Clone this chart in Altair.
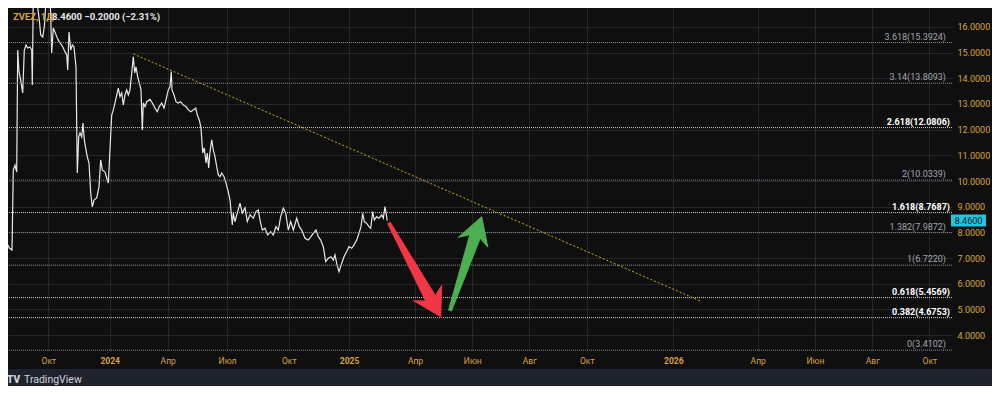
import altair as alt
import pandas as pd

# ---------------- data ----------------
# bar position (session index along the time axis) and close price
bar_pos = [0, 1.3, 4, 5.3, 7, 8.7, 9.7, 11, 13, 14.7, 16.3, 18, 19.7, 22, 23.7, 24.3, 25.3, 27,
           31.3, 32.7, 34.7, 36.3, 38.7, 42, 43.7, 45.3, 47, 49.3, 51.3, 53.7, 55.3, 57, 58.7,
           59.7, 61, 62.7, 64.3, 66, 68, 69.3, 70.7, 72, 73.7, 75, 76.3, 78, 79.3, 81, 82.7,
           84.3, 86, 88.7, 91, 92.7, 94.3, 97, 99.3, 100.3, 103.7, 105.3, 107, 108.7, 110.3,
           112, 113.7, 115.3, 117, 118.7, 120.3, 122, 123.7, 125.3, 126.7, 128, 129.7, 131.3,
           133, 134.3, 135.3, 137, 138.7, 142, 144.3, 147, 149.3, 151.3, 153.7, 156, 158,
           160.3, 162, 163.3, 164, 166, 168, 170.3, 172.7, 175.3, 178, 180.3, 182.7, 185.3,
           187.7, 189.3, 191.3, 193, 194.7, 196.3, 198, 199.3, 200.7, 202, 203.7, 205.3, 207,
           208.7, 210.3, 212, 213.7, 216, 218, 220.3, 222, 224.3, 225.3, 227, 229.3, 232,
           234.3, 237, 239.3, 242, 245.3, 248, 250.3, 252, 254.3, 257, 259.7, 262.7, 265.3,
           268, 270.3, 272.7, 275.3, 277.7, 280.3, 282.7, 285.3, 288.7, 291.3, 293.7, 297,
           300.3, 303, 305.3, 308, 310.3, 312.7, 315.3, 317.7, 320.3, 323, 325.3, 327, 328.7,
           331, 333.7, 336, 338.7, 341, 343.7, 346, 348.7, 351, 353, 354.7, 356.3, 358.7, 361,
           362.7, 364.7, 366.3, 368.7, 371, 373.7, 375.3, 377, 379.3]
close = [7.51, 7.39, 7.31, 10.43, 10.62, 10.35, 15.10, 14.25, 13.86, 13.43, 15.10, 15.30, 15.18,
         15.22, 15.10, 13.74, 17.30, 17.60, 16.27, 15.69, 15.61, 16.00, 17.40, 17.40, 14.99,
         15.96, 15.80, 15.57, 15.42, 15.30, 15.18, 15.03, 14.91, 14.33, 15.80, 15.10, 15.30,
         15.22, 14.44, 10.31, 11.72, 11.87, 11.72, 12.26, 11.60, 11.21, 10.94, 10.70, 9.53,
         8.99, 9.26, 9.34, 9.77, 10.82, 10.43, 10.35, 10.04, 9.92, 12.57, 12.77, 13.04, 13.35,
         13.62, 13.29, 13.43, 12.96, 13.35, 13.55, 13.35, 13.55, 14.21, 14.84, 14.21, 14.45,
         14.06, 13.82, 13.55, 11.99, 13.04, 12.90, 13.09, 13.18, 13.04, 12.84, 12.70, 12.90,
         13.04, 12.84, 13.16, 13.55, 13.67, 14.26, 13.55, 13.35, 13.09, 13.04, 13.09, 12.96,
         12.90, 12.77, 12.70, 12.77, 12.84, 12.57, 12.38, 12.07, 11.09, 11.29, 10.70, 11.09,
         10.51, 11.14, 11.60, 11.21, 10.95, 10.56, 10.24, 10.17, 10.31, 10.17, 9.92, 9.58,
         9.26, 8.29, 8.75, 8.42, 8.75, 9.14, 8.75, 8.95, 8.42, 8.68, 8.55, 8.81, 8.87, 8.48,
         8.09, 8.16, 7.90, 8.03, 7.90, 8.22, 8.09, 8.61, 8.94, 8.75, 8.09, 8.42, 8.09, 8.55,
         8.22, 8.09, 7.77, 7.70, 7.83, 7.96, 8.09, 7.83, 7.70, 7.44, 6.86, 6.99, 7.05, 6.92,
         7.12, 6.79, 6.47, 6.79, 7.05, 7.25, 7.44, 7.38, 7.51, 7.70, 7.96, 8.22, 8.74, 8.42,
         8.35, 8.22, 8.16, 8.81, 8.48, 8.61, 8.55, 8.68, 8.55, 9.00, 8.46]

tick_pos = [40.3, 101.7, 159.7, 219, 280.7, 341, 407, 464.3, 521.3, 578.7, 665.3, 749.7, 807, 864.3, 921.3]
tick_labels = ["Окт", "2024", "Апр", "Июл", "Окт", "2025", "Апр", "Июн", "Авг", "Окт",
               "2026", "Апр", "Июн", "Авг", "Окт"]
year_ticks = [101.7, 341, 665.3]
price_ticks = [4, 5, 6, 7, 8, 9, 10, 11, 12, 13, 14, 15, 16]

fib_ratio = ["3.618", "3.14", "2.618", "2", "1.618", "1.382", "1", "0.618", "0.382", "0"]
fib_price = [15.3924, 13.8093, 12.0806, 10.0339, 8.7687, 7.9872, 6.7220, 5.4569, 4.6753, 3.4102]
fib_bold = [False, False, True, False, True, False, False, True, True, False]

trend_x = [125.3, 692]
trend_y = [14.95, 5.33]

red_arrow_x = [432.7, 433.7, 427.4, 382.3, 379.7, 417.7, 405.6, 432.7]
red_arrow_y = [4.714, 5.938, 5.536, 8.392, 8.337, 5.326, 5.334, 4.714]
green_arrow_x = [473.7, 479.8, 472.2, 443.5, 440.6, 461.8, 450.4, 473.7]
green_arrow_y = [8.610, 7.422, 7.765, 4.937, 4.975, 7.905, 7.807, 8.610]

last_price = 8.46
change_text = "−0.2000 (−2.31%)"
symbol_text = "ZVEZ, 1Д"

# ---------------- styling ----------------
PANEL = "#0f0f10"
FRAME = "#1e222d"
GRID = "#24262b"
GOLD = "#d9a53a"
FONT = "Roboto"
W, H = 944, 343

xs = alt.Scale(domain=[0, 944], nice=False, zero=False)
ys = alt.Scale(domain=[3.377, 16.74], nice=False, zero=False)

label_expr = ("[" + ",".join(f"'{l}'" for l in tick_labels) + "][indexof(["
              + ",".join(str(p) for p in tick_pos) + "], datum.value)]")
year_test = " || ".join(f"datum.value == {v}" for v in year_ticks)

price_df = pd.DataFrame({"bar": bar_pos, "close": close})
fib_df = pd.DataFrame({
    "price": fib_price,
    "label": [f"{r}({p:.4f})" for r, p in zip(fib_ratio, fib_price)],
    "bold": fib_bold,
})
fib_df["line_color"] = ["#d4d6dc" if b else "#8c8f98" for b in fib_bold]
trend_df = pd.DataFrame({"bar": trend_x, "price": trend_y})
red_df = pd.DataFrame({"bar": red_arrow_x, "price": red_arrow_y, "i": range(len(red_arrow_x))})
green_df = pd.DataFrame({"bar": green_arrow_x, "price": green_arrow_y, "i": range(len(green_arrow_x))})
one = pd.DataFrame({"a": [0]})

x_axis = alt.Axis(values=tick_pos, labelExpr=label_expr, labelColor=GOLD, labelFont=FONT,
                  labelFontSize=8.5, tickSize=0, domain=False, labelPadding=5, grid=True,
                  gridColor=GRID, title=None, labelOverlap=False, labelFlush=False,
                  labelFontWeight={"condition": {"test": year_test, "value": "bold"}, "value": "normal"})
y_axis = alt.Axis(orient="right", values=price_ticks, tickCount=13, format=".4f", labelColor=GOLD,
                  labelFont=FONT, labelFontSize=9, tickSize=0, domain=False, labelPadding=5,
                  grid=True, gridColor=GRID, title=None, labelAlign="left", labelOverlap=False,
                  labelFlush=False, labelBound=False)


def X(field):
    return alt.X(field, scale=xs, axis=x_axis)


def Y(field):
    return alt.Y(field, scale=ys, axis=y_axis)


base_line = alt.Chart(price_df).mark_line(color="#e8e8e8", strokeWidth=1.2, clip=True).encode(
    x=X("bar:Q"), y=Y("close:Q"),
)

fib_rules = alt.Chart(fib_df).mark_rule(strokeDash=[1, 1], strokeWidth=1).encode(
    y=Y("price:Q"),
    color=alt.Color("line_color:N", scale=None),
)

fib_text_gray = alt.Chart(fib_df[~fib_df["bold"]]).mark_text(
    align="right", baseline="alphabetic", dy=-3, font=FONT, fontSize=9, color="#a3a6af"
).encode(x=alt.value(938), y=Y("price:Q"), text="label:N")

fib_text_bold = alt.Chart(fib_df[fib_df["bold"]]).mark_text(
    align="right", baseline="alphabetic", dy=-3, font=FONT, fontSize=9, fontWeight="bold",
    color="#ffffff"
).encode(x=alt.value(942), y=Y("price:Q"), text="label:N")

trend = alt.Chart(trend_df).mark_line(color="#c9ad1e", strokeWidth=1, strokeDash=[2, 2]).encode(
    x=X("bar:Q"), y=Y("price:Q")
)

red_arrow = alt.Chart(red_df).mark_line(fill="#f23645", stroke="#f23645", strokeWidth=1).encode(
    x=X("bar:Q"), y=Y("price:Q"), order="i:Q"
)
green_arrow = alt.Chart(green_df).mark_line(fill="#4caf50", stroke="#4caf50", strokeWidth=1).encode(
    x=X("bar:Q"), y=Y("price:Q"), order="i:Q"
)

box_df = pd.DataFrame({"p": [last_price], "lo": [last_price - 0.235], "hi": [last_price + 0.235],
                       "t": [f"{last_price:.4f}"]})
price_box = alt.Chart(box_df).mark_rect(color="#22c3df").encode(
    x=alt.value(943), x2=alt.value(978), y=Y("lo:Q"), y2="hi:Q"
)
price_box_text = alt.Chart(box_df).mark_text(
    align="center", baseline="middle", font=FONT, fontSize=9, color="#0d1b24"
).encode(x=alt.value(960.5), y=Y("p:Q"), text="t:N")

legend_sym = alt.Chart(one).mark_text(
    align="left", baseline="middle", font=FONT, fontSize=9.5, fontWeight="bold", color=GOLD,
    text=symbol_text
).encode(x=alt.value(5), y=alt.value(9))
legend_val = alt.Chart(one).mark_text(
    align="left", baseline="middle", font=FONT, fontSize=9.5, fontWeight="bold", color="#e6e7ea",
    text=f"{last_price:.4f}  {change_text}"
).encode(x=alt.value(44), y=alt.value(9))

bottom_strip = alt.Chart(one).mark_rect(color=FRAME).encode(
    x=alt.value(-2), x2=alt.value(986), y=alt.value(361), y2=alt.value(380)
)
logo_mark = alt.Chart(one).mark_text(
    align="left", baseline="middle", font=FONT, fontSize=10, fontWeight=900, color="#d1d4dc",
    text="TV"
).encode(x=alt.value(-1), y=alt.value(372))
logo_text = alt.Chart(one).mark_text(
    align="left", baseline="middle", font=FONT, fontSize=10.5, color="#d1d4dc",
    text="TradingView"
).encode(x=alt.value(16), y=alt.value(372))

chart = alt.layer(
    base_line, fib_rules, fib_text_gray, fib_text_bold, trend, red_arrow, green_arrow,
    price_box, price_box_text, legend_sym, legend_val, bottom_strip, logo_mark, logo_text
).properties(
    width=W, height=H, background=PANEL,
    padding={"left": 0, "top": 0, "right": 40, "bottom": 35},
    autosize=alt.AutoSizeParams(type="none"),
).configure_view(stroke=None, fill=PANEL)

chart.save("out.html", embed_options={"renderer": "svg", "actions": False})
